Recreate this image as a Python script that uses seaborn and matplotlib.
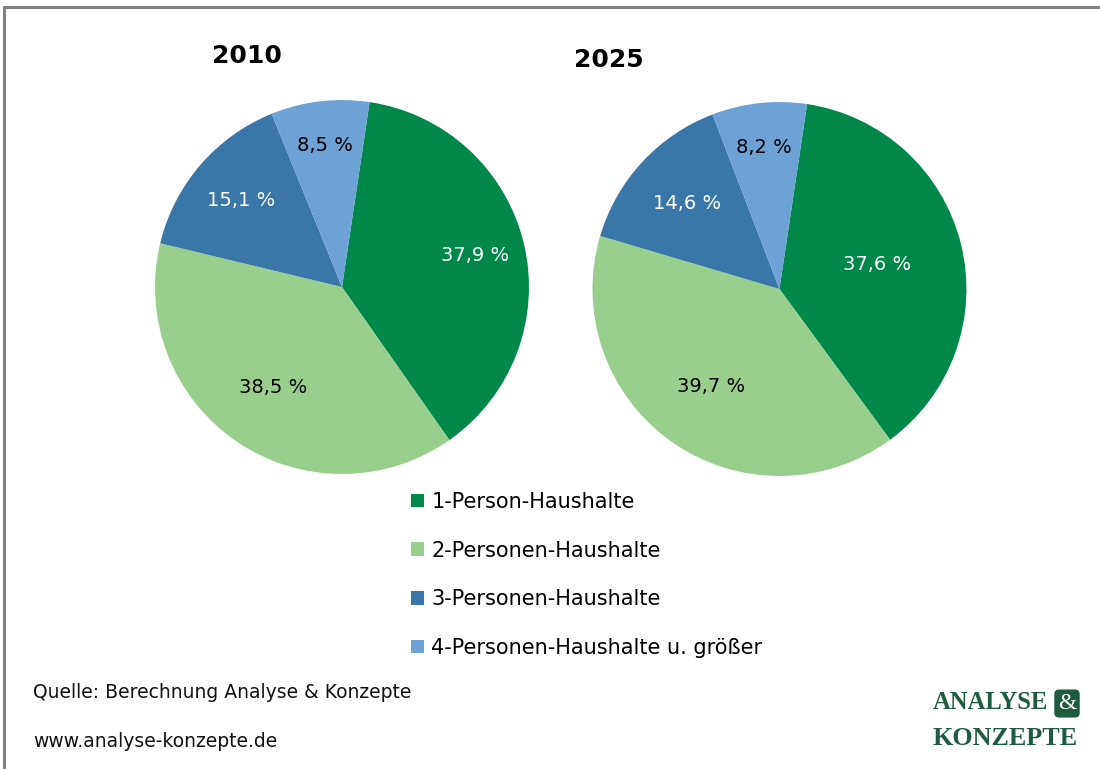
import matplotlib

matplotlib.use("Agg")
import matplotlib.pyplot as plt
import numpy as np
import seaborn as sns
from matplotlib.lines import Line2D
from matplotlib.patches import Patch

# Daten
kategorien = [
    "1-Person-Haushalte",
    "2-Personen-Haushalte",
    "3-Personen-Haushalte",
    "4-Personen-Haushalte u. größer",
]
jahre = ["2010", "2025"]
anteile_2010 = [37.9, 38.5, 15.1, 8.5]
anteile_2025 = [37.6, 39.7, 14.6, 8.2]

farben = ["#00874a", "#99cf8c", "#3a76a7", "#6ea1d4"]
textfarben = ["white", "black", "white", "black"]

sns.set_theme(style="white")
plt.rcParams["font.family"] = ["DejaVu Sans"]

fig = plt.figure(figsize=(11, 7.69), dpi=100)
fig.patch.set_facecolor("white")

# Rahmen oben / links
fig.add_artist(Line2D([0.004, 1.0], [0.991, 0.991], color="#808080", lw=2.2))
fig.add_artist(Line2D([0.004, 0.004], [0.0, 0.991], color="#808080", lw=2.2))

pie_axes = [
    fig.add_axes([0.1409, 0.3836, 0.34, 0.4863]),
    fig.add_axes([0.5386, 0.381, 0.34, 0.4863]),
]
label_dist = [
    [0.73, 0.65, 0.71, 0.76],
    [0.54, 0.64, 0.67, 0.76],
]

for ax, werte, dists in zip(pie_axes, [anteile_2010, anteile_2025], label_dist):
    wedges, _ = ax.pie(
        werte,
        colors=farben,
        startangle=81.5,
        counterclock=False,
        radius=1.0,
        wedgeprops={"linewidth": 0},
    )
    for w, v, d, tc in zip(wedges, werte, dists, textfarben):
        mid = np.deg2rad((w.theta1 + w.theta2) / 2)
        ax.text(
            d * np.cos(mid), d * np.sin(mid),
            f"{v:.1f} %".replace(".", ","),
            ha="center", va="center", fontsize=14, color=tc,
        )
    ax.set_xlim(-1, 1)
    ax.set_ylim(-1, 1)
    ax.set_aspect("equal")
    ax.axis("off")

fig.text(0.2245, 0.9272, jahre[0], ha="center", va="center",
         fontsize=18, fontweight="bold", color="black")
fig.text(0.5536, 0.922, jahre[1], ha="center", va="center",
         fontsize=18, fontweight="bold", color="black")

handles = [Patch(facecolor=c, edgecolor="none", label=k)
           for c, k in zip(farben, kategorien)]
fig.legend(
    handles=handles,
    loc="upper left",
    bbox_to_anchor=(0.3665, 0.371),
    frameon=False,
    fontsize=15,
    labelcolor="black",
    handlelength=0.62,
    handleheight=0.62,
    handletextpad=0.33,
    labelspacing=1.37,
    borderaxespad=0,
)

fig.text(0.030, 0.099, "Quelle: Berechnung Analyse & Konzepte",
         ha="left", va="center", fontsize=13.5, color="#111111")
fig.text(0.030, 0.036, "www.analyse-konzepte.de",
         ha="left", va="center", fontsize=13.5, color="#111111")

# Logo
logo_gruen = "#1d5c3e"
fig.text(0.848, 0.078, "ANALYSE", ha="left", va="baseline",
         fontsize=17.7, fontweight="bold", color=logo_gruen,
         family="Liberation Serif")
fig.text(0.848, 0.031, "KONZEPTE", ha="left", va="baseline",
         fontsize=18.8, fontweight="bold", color=logo_gruen,
         family="Liberation Serif")
fig.text(0.970, 0.078, "&", ha="center", va="baseline",
         fontsize=17, color="white", family="Liberation Serif",
         bbox={"boxstyle": "round,pad=0.15,rounding_size=0.2",
               "facecolor": logo_gruen, "edgecolor": "none"})

fig.savefig("out.png", dpi=100)
plt.close(fig)
